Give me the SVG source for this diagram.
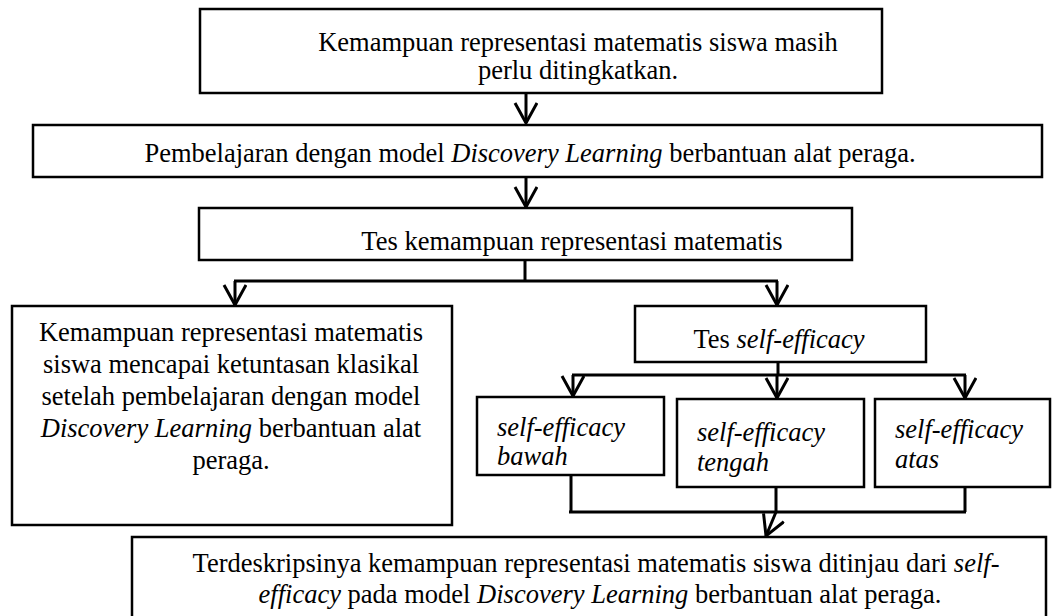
<svg xmlns="http://www.w3.org/2000/svg" width="1052" height="616" viewBox="0 0 1052 616">
<defs>
<marker id="arr" markerWidth="24" markerHeight="26" refX="21" refY="12" orient="auto" markerUnits="userSpaceOnUse" viewBox="0 0 24 26">
<path d="M1,1 L21,12 L1,23" fill="none" stroke="#000" stroke-width="3"/>
</marker>
</defs>
<style>
.box{fill:#fff;stroke:#000;stroke-width:2.5}
.ln{fill:none;stroke:#000;stroke-width:3}
.c{text-anchor:middle}
.i{font-style:italic}
</style>
<rect width="1052" height="616" fill="#fff"/>
<g id="connectors">
<path class="ln" d="M526,93 V123" marker-end="url(#arr)"/>
<path class="ln" d="M526,177 V207" marker-end="url(#arr)"/>
<path class="ln" d="M525,260 V281 M234,281 H778"/>
<path class="ln" d="M235,281 V305" marker-end="url(#arr)"/>
<path class="ln" d="M777,281 V305" marker-end="url(#arr)"/>
<path class="ln" d="M778,362 V375 M572,375 H966"/>
<path class="ln" d="M573,375 V396" marker-end="url(#arr)"/>
<path class="ln" d="M777,375 V398" marker-end="url(#arr)"/>
<path class="ln" d="M965,375 V398" marker-end="url(#arr)"/>
<path class="ln" d="M571,475 V512 M776,487 V512 M965,487 V512 M569,512 H966"/>
<path class="ln" d="M776,512 L766,536" marker-end="url(#arr)"/>
</g>
<g font-family="'Liberation Serif','Times New Roman',serif" font-size="26.5" fill="#000">
<g id="n1"><rect class="box" x="200" y="9" width="682" height="84"/>
<text class="c" x="578" y="51">Kemampuan representasi matematis siswa masih</text>
<text class="c" x="578" y="79">perlu ditingkatkan.</text></g>
<g id="n2"><rect class="box" x="33" y="125" width="1009" height="52"/>
<text class="c" x="530" y="162">Pembelajaran dengan model <tspan class="i">Discovery Learning</tspan> berbantuan alat peraga.</text></g>
<g id="n3"><rect class="box" x="199" y="208" width="653" height="52"/>
<text class="c" x="572" y="250">Tes kemampuan representasi matematis</text></g>
<g id="n4"><rect class="box" x="12" y="306" width="440" height="219"/>
<text class="c" x="231" y="341">Kemampuan representasi matematis</text>
<text class="c" x="231" y="373">siswa mencapai ketuntasan klasikal</text>
<text class="c" x="231" y="405">setelah pembelajaran dengan model</text>
<text class="c" x="231" y="437"><tspan class="i">Discovery Learning</tspan> berbantuan alat</text>
<text class="c" x="231" y="469">peraga.</text></g>
<g id="n5"><rect class="box" x="635" y="306" width="291" height="56"/>
<text class="c" x="779" y="348">Tes <tspan class="i">self-efficacy</tspan></text></g>
<g id="n6"><rect class="box" x="477" y="397" width="187" height="78"/>
<text class="i" x="497" y="436">self-efficacy</text>
<text class="i" x="497" y="465">bawah</text></g>
<g id="n7"><rect class="box" x="677" y="399" width="187" height="88"/>
<text class="i" x="697" y="441">self-efficacy</text>
<text class="i" x="697" y="471">tengah</text></g>
<g id="n8"><rect class="box" x="875" y="399" width="175" height="88"/>
<text class="i" x="895" y="438">self-efficacy</text>
<text class="i" x="895" y="468">atas</text></g>
<g id="n9"><rect class="box" x="132" y="537" width="914" height="82"/>
<text class="c" x="596" y="572">Terdeskripsinya kemampuan representasi matematis siswa ditinjau dari <tspan class="i">self-</tspan></text>
<text class="c" x="600" y="603"><tspan class="i">efficacy</tspan> pada model <tspan class="i">Discovery Learning</tspan> berbantuan alat peraga.</text></g>
</g>
</svg>
